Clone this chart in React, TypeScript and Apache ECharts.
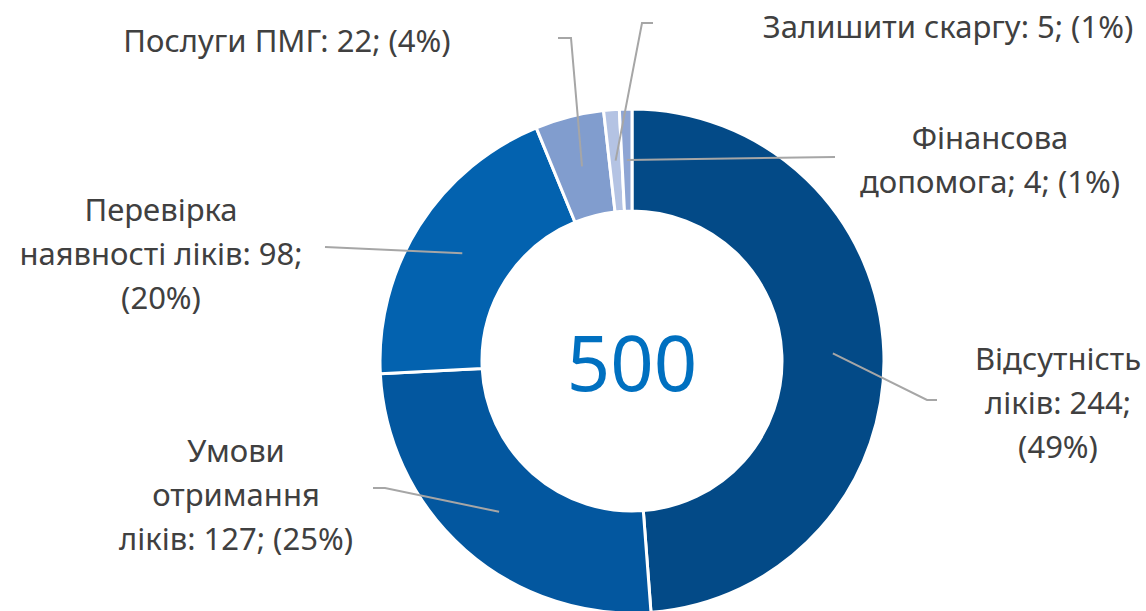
import React, { useEffect, useRef } from "react";
import * as echarts from "echarts";

const categories = [
  "Відсутність ліків",
  "Умови отримання ліків",
  "Перевірка наявності ліків",
  "Послуги ПМГ",
  "Залишити скаргу",
  "Фінансова допомога",
];
const values = [244, 127, 98, 22, 5, 4];
const labelTemplates = [
  "Відсутність\nліків: {c};\n({d}%)",
  "Умови\nотримання\nліків: {c}; ({d}%)",
  "Перевірка\nнаявності ліків: {c};\n({d}%)",
  "Послуги ПМГ: {c}; ({d}%)",
  "Залишити скаргу: {c}; ({d}%)",
  "Фінансова\nдопомога; {c}; ({d}%)",
];
const colors = ["#034A87", "#03579F", "#0362AF", "#819DCE", "#B4C3E3", "#8EA5D4"];
const totalLabel = "500";

// layout (pixels)
const CX = 632;
const CY = 361;
const R_IN = 150;
const R_OUT = 252;
const labelCenters = [
  [1058, 402],
  [236, 494],
  [161, 253],
  [287, 40],
  [948, 26],
  [990, 159],
];
const elbows = [
  [[927, 400], [937, 400]],
  [[385, 488], [373, 488]],
  [[325, 247]],
  [[571, 38], [558, 38]],
  [[642, 23], [653, 23]],
  [[835, 157]],
];

export default function App() {
  const ref = useRef<HTMLDivElement>(null);
  useEffect(() => {
    if (!ref.current) return;
    const chart = echarts.init(ref.current, null, { renderer: "svg" });
    const total = values.reduce((a, b) => a + b, 0);
    const midAngles: number[] = [];
    let acc = 0;
    values.forEach((v) => {
      const mid = acc + v / 2;
      midAngles.push(Math.PI / 2 - (mid / total) * Math.PI * 2);
      acc += v;
    });
    const rMid = (R_IN + R_OUT) / 2;
    const leaderLines = values.map((_, i) => {
      const a = midAngles[i];
      const start = [CX + rMid * Math.cos(a), CY - rMid * Math.sin(a)];
      return {
        type: "polyline",
        z: 10,
        silent: true,
        shape: { points: [start, ...elbows[i]] },
        style: { stroke: "#A6A6A6", lineWidth: 2, fill: null },
      };
    });
    chart.setOption({
      animation: false,
      graphic: [
        {
          type: "text",
          x: CX,
          y: CY,
          z: 10,
          style: {
            text: totalLabel,
            fill: "#0070C0",
            font: '76px "Noto Sans"',
            align: "center",
            verticalAlign: "middle",
          },
        },
        ...leaderLines,
      ],
      series: [
        {
          type: "pie",
          center: [CX, CY],
          radius: [R_IN, R_OUT],
          startAngle: 90,
          clockwise: true,
          percentPrecision: 0,
          avoidLabelOverlap: false,
          itemStyle: { borderColor: "#ffffff", borderWidth: 3 },
          label: {
            show: true,
            position: "outside",
            color: "#404040",
            fontFamily: "Noto Sans",
            fontSize: 31,
            lineHeight: 44,
            align: "center",
          },
          labelLine: { show: false },
          labelLayout: (params: any) => {
            const i = params.dataIndex;
            return {
              x: labelCenters[i][0],
              y: labelCenters[i][1],
              align: "center",
              verticalAlign: "middle",
            };
          },
          data: categories.map((name, i) => ({
            name,
            value: values[i],
            itemStyle: { color: colors[i] },
            label: { formatter: labelTemplates[i] },
          })),
        },
      ],
    });
    return () => chart.dispose();
  }, []);
  return (
    <div
      ref={ref}
      style={{ position: "absolute", left: 0, top: 0, width: 1146, height: 611 }}
    />
  );
}
